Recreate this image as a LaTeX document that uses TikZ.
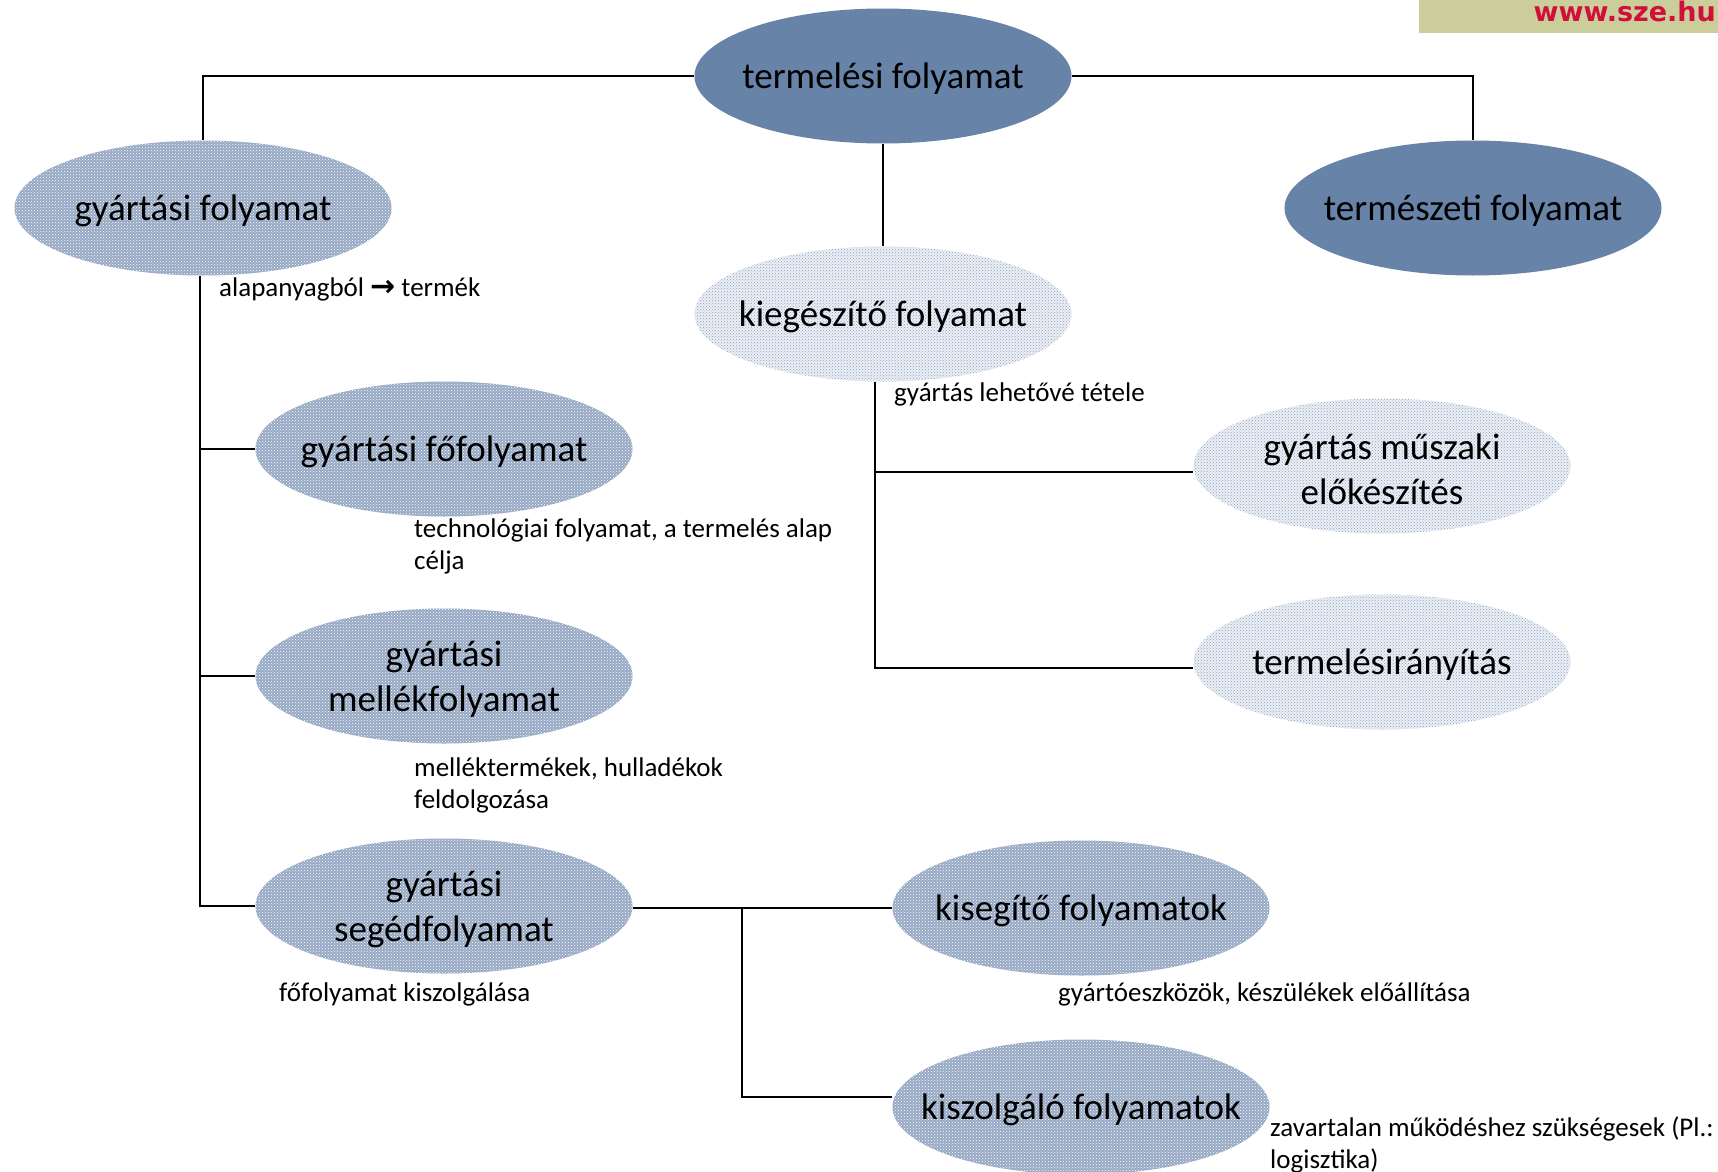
\documentclass[tikz,border=0pt]{standalone}
\usepackage{fontspec}
\setmainfont{Carlito}
\newfontfamily\webfont{DejaVu Sans}
\usetikzlibrary{shapes.geometric,patterns}
\definecolor{solidblue}{RGB}{103,131,168}
\definecolor{patbgA}{RGB}{150,168,196}
\definecolor{patdotA}{RGB}{255,255,255}
\definecolor{patbgB}{RGB}{236,239,245}
\definecolor{patdotB}{RGB}{140,160,192}
\definecolor{webbg}{RGB}{203,205,154}
\definecolor{webred}{RGB}{208,16,58}
\tikzset{
  ell/.style={ellipse, inner sep=0pt, minimum width=377pt, minimum height=135pt},
  intext/.style={inner sep=0pt, yshift=-3pt, align=center, font=\fontsize{37}{45}\selectfont},
  solidell/.style={ell, fill=solidblue},
  darkell/.style={ell, fill=patbgA, postaction={pattern=crosshatch dots, pattern color=patdotA}},
  lightell/.style={ell, fill=patbgB, postaction={pattern=crosshatch dots, pattern color=patdotB}},
  lbl/.style={anchor=base west, inner sep=0pt, align=left, font=\fontsize{27}{32}\selectfont},
  conn/.style={line width=1.8pt, black}
}
\begin{document}
\begin{tikzpicture}[x=1pt, y=-1pt]
\useasboundingbox (0,0) rectangle (1718,1172);
% banner
\fill[webbg] (1419,0) rectangle (1718,33);
\node[anchor=base east, inner sep=0pt, text=webred, font=\webfont\bfseries\fontsize{27}{30}\selectfont] (web) at (1716,22) {www.sze.hu};
% ellipses
\node[solidell, label={[intext]center:termelési folyamat}] (top) at (883,76) {};
\node[darkell, label={[intext]center:gyártási folyamat}] (gyf) at (203,208) {};
\node[solidell, label={[intext]center:természeti folyamat}] (term) at (1473,208) {};
\node[lightell, label={[intext]center:kiegészítő folyamat}] (kieg) at (883,314) {};
\node[darkell, label={[intext]center:gyártási főfolyamat}] (fo) at (444,449) {};
\node[darkell, label={[intext]center:gyártási\\mellékfolyamat}] (mel) at (444,676) {};
\node[darkell, label={[intext]center:gyártási\\segédfolyamat}] (seg) at (444,906) {};
\node[lightell, label={[intext]center:gyártás műszaki\\előkészítés}] (mus) at (1382,466) {};
\node[lightell, label={[intext]center:termelésirányítás}] (irany) at (1382,662) {};
\node[darkell, label={[intext]center:kisegítő folyamatok}] (kis) at (1081,908) {};
\node[darkell, label={[intext]center:kiszolgáló folyamatok}] (ksz) at (1081,1107) {};
% connectors
\draw[conn] (top.west) -| (gyf.north);
\draw[conn] (top.east) -| (term.north);
\draw[conn] (top.south) -- (kieg.north);
\coordinate (gb) at ([xshift=-3pt]gyf.south);
\draw[conn] (gb) |- (seg.west);
\draw[conn] (gb |- fo.west) -- (fo.west);
\draw[conn] (gb |- mel.west) -- (mel.west);
\coordinate (kb) at ([xshift=-8pt]kieg.south);
\coordinate (muse) at ([yshift=-6pt]mus.west);
\coordinate (iranye) at ([yshift=-6pt]irany.west);
\draw[conn] (kb) |- (iranye);
\draw[conn] (kb |- muse) -- (muse);
\coordinate (j) at (742,908);
\coordinate (ksze) at ([yshift=10pt]ksz.west);
\draw[conn] (seg.east |- kis.west) -- (kis.west);
\draw[conn] (j) |- (ksze);
% labels
\node[lbl] (l1) at (219,296) {alapanyagból {\webfont\bfseries\fontsize{30}{32}\selectfont →} termék};
\node[lbl] (l2) at (894,401) {gyártás lehetővé tétele};
\node[lbl] (l3) at (414,569) {technológiai folyamat, a termelés alap\\célja};
\node[lbl] (l4) at (414,808) {melléktermékek, hulladékok\\feldolgozása};
\node[lbl] (l5) at (279,1001) {főfolyamat kiszolgálása};
\node[lbl] (l6) at (1058,1001) {gyártóeszközök, készülékek előállítása};
\node[lbl] (l7) at (1270,1168) {zavartalan működéshez szükségesek (Pl.:\\logisztika)};
\end{tikzpicture}
\end{document}
